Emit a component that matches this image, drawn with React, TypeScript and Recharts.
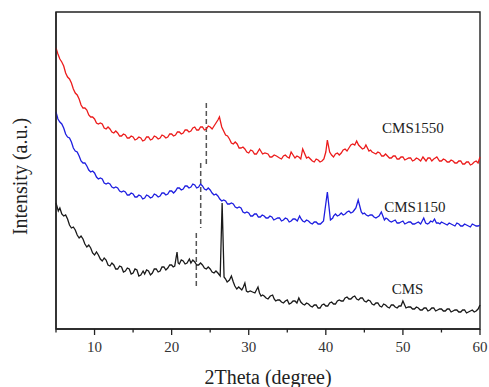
import React from 'react';
import { LineChart, Line, XAxis, YAxis, ReferenceArea, ReferenceLine, ReferenceDot } from 'recharts';

// 2Theta (degree) vs intensity (a.u.)
const cms1550: [number, number][] = [[5,281],[5.5,270],[6,263],[6.5,252],[7,246],[7.5,236],[8,230],[8.5,221],[9,219],[9.5,212],[10,210],[10.5,205],[11,205],[11.5,200],[12,200],[12.5,196],[13,196],[13.5,193],[14,194],[14.5,191],[15,192],[15.5,190],[16,191],[16.5,189],[17,192],[17.5,190],[18,192],[18.5,191],[19,193],[19.5,192],[20,195],[20.5,194],[21,197],[21.5,196],[22,199],[22.5,198],[23,202],[23.5,199],[24,202],[24.5,200],[25,202],[25.5,203],[26,209],[26.2,212],[26.5,202],[27,194],[27.5,190],[28,185],[28.5,185],[29,181],[29.5,180],[30,176],[30.5,178],[31,175],[31.4,180],[31.8,175],[32.5,175],[33,172],[33.6,173],[34,171],[34.5,173],[35,172],[35.5,177],[36,171],[36.5,172],[37,180],[37.5,171],[38,170],[38.5,167],[39,169],[39.5,168],[40,177],[40.2,189],[40.5,177],[41,172],[41.5,176],[42,176],[42.5,180],[43,181],[43.5,185],[44,188],[44.5,182],[45,181],[45.2,184],[45.6,178],[46,177],[46.5,175],[47,176],[47.5,173],[48,173],[48.5,171],[49,173],[49.5,170],[50,172],[50.5,170],[51,171],[51.5,169],[52,170],[52.6,172],[53,168],[53.5,171],[54,170],[54.4,172],[55,168],[55.5,169],[56,167],[56.5,168],[57,166],[57.5,168],[58,165],[58.5,167],[59,165],[59.5,168],[60,172]];
// fine scatter of the noisy trace between the points above
const cms1550Noise: [number, number][] = [[5.25,275],[5.75,267],[6.25,256],[6.75,250],[7.25,240],[7.75,234],[8.25,224],[8.75,221],[9.25,214],[9.75,212],[10.25,206],[10.75,206],[11.25,201],[11.75,202],[12.25,197],[12.75,198],[13.25,193],[13.75,195],[14.25,191],[14.75,193],[15.25,189],[15.75,192],[16.25,188],[16.75,192],[17.25,189],[17.75,193],[18.25,190],[18.75,194],[19.25,191],[19.75,195],[20.25,193],[20.75,197],[21.25,195],[21.75,199],[22.25,197],[22.75,201],[23.25,199],[23.75,202],[24.25,199],[24.75,203],[25.25,200],[27.25,193],[27.75,186],[28.25,187],[28.75,181],[29.25,182],[29.75,177],[30.25,179],[30.75,175],[32.1,176],[32.75,172],[33.3,174],[34.25,170],[34.75,174],[35.25,171],[36.25,173],[36.75,170],[37.75,172],[38.25,168],[38.75,170],[39.25,167],[39.75,170],[40.75,174],[41.25,175],[41.75,174],[42.25,179],[42.75,178],[43.25,184],[43.75,184],[44.25,184],[44.75,180],[45.8,179],[46.25,176],[46.75,177],[47.25,173],[47.75,175],[48.25,171],[48.75,173],[49.25,170],[49.75,172],[50.25,169],[50.75,171],[51.25,168],[51.75,171],[52.3,168],[52.8,170],[53.25,171],[53.75,168],[54.2,171],[54.75,168],[55.25,170],[55.75,167],[56.25,169],[56.75,166],[57.25,168],[57.75,165],[58.25,167],[58.75,164],[59.25,167],[59.75,166]];

const cms1150: [number, number][] = [[5,217],[5.5,207],[6,201],[6.5,192],[7,187],[7.5,178],[8,173],[8.5,166],[9,163],[9.5,157],[10,156],[10.5,150],[11,150],[11.5,145],[12,145],[12.5,141],[13,141],[13.5,137],[14,137],[14.5,134],[15,135],[15.5,132],[16,133],[16.5,131],[17,133],[17.5,132],[18,134],[18.5,133],[19,136],[19.5,135],[20,138],[20.5,138],[21,141],[21.5,140],[22,143],[22.5,142],[23,144],[23.5,142],[24,143],[24.5,139],[25,139],[25.5,134],[26,133],[26.5,128],[27,128],[27.5,125],[28,125],[28.5,121],[29,121],[29.5,116],[30,116],[30.5,113],[31,115],[31.5,112],[32,113],[32.5,111],[33,112],[33.5,110],[34,111],[34.5,109],[35,110],[35.5,108],[36,110],[36.6,113],[37,108],[37.5,109],[38,106],[38.5,107],[39,105],[39.7,108],[40.2,137],[40.6,109],[41,113],[41.5,113],[42,116],[42.5,115],[43,118],[43.5,117],[43.9,121],[44.2,129],[44.6,117],[45,116],[45.5,113],[46,114],[46.5,111],[46.9,113],[47.2,117],[47.6,109],[48,110],[48.5,107],[49,109],[49.5,106],[50,108],[50.5,106],[51,107],[51.5,105],[52,107],[52.7,111],[53.2,105],[53.6,108],[54.1,110],[54.6,106],[55,107],[55.5,105],[56,106],[56.5,104],[57,106],[57.5,103],[58,105],[58.5,103],[59,105],[59.5,103],[60,104]];
const cms1150Noise: [number, number][] = [[5.25,210],[5.75,205],[6.25,195],[6.75,191],[7.25,181],[7.75,177],[8.25,168],[8.75,166],[9.25,159],[9.75,158],[10.25,152],[10.75,151],[11.25,146],[11.75,146],[12.25,142],[12.75,142],[13.25,138],[13.75,138],[14.25,134],[14.75,136],[15.25,132],[15.75,134],[16.25,130],[16.75,134],[17.25,131],[17.75,135],[18.25,132],[18.75,136],[19.25,134],[19.75,138],[20.25,136],[20.75,141],[21.25,139],[21.75,143],[22.25,141],[22.75,145],[23.25,141],[23.75,145],[24.25,140],[24.75,141],[25.25,136],[25.75,135],[26.25,130],[26.75,129],[27.25,125],[27.75,126],[28.25,122],[28.75,122],[29.25,117],[29.75,117],[30.25,113],[30.75,115],[31.25,112],[31.75,114],[32.25,111],[32.75,113],[33.25,109],[33.75,111],[34.25,108],[34.75,111],[35.25,107],[35.75,110],[36.3,108],[36.8,110],[37.25,107],[37.75,108],[38.25,105],[38.75,107],[39.3,105],[40.9,111],[41.25,115],[41.75,114],[42.25,114],[42.75,117],[43.25,116],[43.7,119],[44.8,115],[45.25,114],[45.75,114],[46.25,112],[46.7,112],[47.8,111],[48.25,108],[48.75,108],[49.25,106],[49.75,107],[50.25,105],[50.75,107],[51.25,105],[51.75,106],[52.3,105],[52.95,106],[53.4,106],[53.85,107],[54.35,106],[54.8,105],[55.25,106],[55.75,104],[56.25,105],[56.75,103],[57.25,105],[57.75,103],[58.25,104],[58.75,102],[59.25,104],[59.75,103]];

const cms: [number, number][] = [[5,126],[5.3,118],[5.5,121],[6,113],[6.5,110],[7,101],[7.5,99],[8,91],[8.5,90],[9,82],[9.5,81],[10,74],[10.5,74],[11,68],[11.5,69],[12,63],[12.5,64],[13,60],[13.5,62],[14,58],[14.5,60],[15,56],[15.5,59],[16,54],[16.3,58],[16.5,55],[17,58],[17.5,56],[18,60],[18.5,58],[19,62],[19.5,61],[20,64],[20.4,63],[20.7,77],[21,65],[21.5,68],[22,66],[22.3,70],[22.5,66],[23,67],[23.5,64],[24,64],[24.5,60],[25,60],[25.5,56],[26,56],[26.3,53],[26.55,126],[26.8,52],[27.2,47],[27.75,53],[28.2,43],[28.7,42],[29.1,39],[29.5,46],[29.9,37],[30.5,37],[31.2,42],[31.6,33],[32,33],[32.5,30],[33.1,34],[33.5,28],[34,29],[34.5,26],[35,29],[35.5,26],[36,28],[36.5,31],[37,25],[37.5,26],[38,23],[38.5,24],[39,21],[39.5,24],[40,23],[40.5,26],[41,25],[41.5,28],[42,28],[42.5,31],[43,30],[43.5,32],[44,30],[44.5,31],[45,28],[45.5,29],[46,25],[46.5,26],[47,23],[47.5,25],[48,22],[48.5,24],[49,22],[49.5,23],[50,28],[50.4,21],[51,22],[51.5,20],[52,21],[52.5,19],[53,21],[53.5,19],[54,21],[54.5,19],[55,20],[55.5,18],[56,20],[56.5,18],[57,19],[57.5,17],[58,19],[58.5,17],[59,19],[59.5,18],[60,24]];
const cmsNoise: [number, number][] = [[5.15,122],[5.75,115],[6.25,114],[6.75,104],[7.25,102],[7.75,94],[8.25,93],[8.75,85],[9.25,84],[9.75,76],[10.25,77],[10.75,70],[11.25,71],[11.75,64],[12.25,66],[12.75,60],[13.25,63],[13.75,57],[14.25,61],[14.75,55],[15.25,60],[15.75,53],[16.75,59],[17.25,54],[17.75,60],[18.25,57],[18.75,62],[19.25,59],[19.75,64],[20.2,62],[20.85,66],[21.25,69],[21.75,65],[22.75,69],[23.25,64],[23.75,66],[24.25,61],[24.75,62],[25.25,57],[25.75,58],[27.0,50],[27.5,49],[28.0,47],[28.45,40],[29.3,42],[29.7,38],[30.2,38],[30.8,36],[31.4,36],[31.8,34],[32.25,31],[32.8,33],[33.3,30],[33.75,29],[34.25,27],[34.75,28],[35.25,25],[35.75,28],[36.25,26],[36.75,27],[37.25,24],[37.75,25],[38.25,22],[38.75,24],[39.25,21],[39.75,25],[40.25,23],[40.75,27],[41.25,25],[41.75,29],[42.25,28],[42.75,32],[43.25,30],[43.75,33],[44.25,29],[44.75,31],[45.25,27],[45.75,28],[46.25,24],[46.75,26],[47.25,22],[47.75,24],[48.25,21],[48.75,24],[49.25,21],[49.75,23],[50.7,22],[51.25,20],[51.75,22],[52.25,19],[52.75,21],[53.25,18],[53.75,21],[54.25,18],[54.75,20],[55.25,18],[55.75,20],[56.25,17],[56.75,19],[57.25,17],[57.75,19],[58.25,16],[58.75,18],[59.25,17],[59.75,20]];

const xTicks = [5, 10, 15, 20, 25, 30, 35, 40, 45, 50, 55, 60];
const xLabelTicks = [10, 20, 30, 40, 50, 60];

// dashed guide segments: [x1, y1, x2, y2]
const guides: [number, number, number, number][] = [
  [24.5, 226, 24.5, 162],
  [23.77, 166, 23.77, 101],
  [23.2, 96, 23.2, 40],
];

const seriesLabels: { name: string; x: number; y: number }[] = [
  { name: 'CMS1550', x: 51.3, y: 201 },
  { name: 'CMS1150', x: 51.55, y: 122 },
  { name: 'CMS', x: 50.6, y: 40 },
];

const toData = (main: [number, number][], noise: [number, number][]) =>
  [...main, ...noise].sort((a, b) => a[0] - b[0]).map(([x, y]) => ({ x, y }));

const FONT = '"Liberation Serif", "Times New Roman", Times, serif';

const XTick = (props: any) => {
  const { x, y, payload } = props;
  const major = xLabelTicks.includes(payload.value);
  return (
    <g>
      <line x1={x} x2={x} y1={y} y2={y + (major ? 6 : 3.5)} stroke="#222" strokeWidth={1.3} />
      {major && (
        <text x={x} y={y + 23} textAnchor="middle" style={{ fontFamily: FONT, fontSize: 15 }} fill="#333">
          {payload.value}
        </text>
      )}
    </g>
  );
};

const YTitle = (props: any) => {
  const vb = props.viewBox;
  const cx = vb.x + 20;
  const cy = vb.y + vb.height / 2 + 6;
  return (
    <text
      transform={`translate(${cx},${cy}) rotate(-90)`}
      textAnchor="middle"
      dominantBaseline="central"
      style={{ fontFamily: FONT, fontSize: 20 }}
      fill="#222"
    >
      Intensity (a.u.)
    </text>
  );
};

export default function App() {
  return (
    <div style={{ position: 'absolute', left: 0, top: 0, background: '#fff', fontFamily: FONT }}>
      <LineChart width={489} height={387} margin={{ top: 12, right: 9, bottom: 0, left: 0 }} style={{ fontFamily: FONT }}>
        <XAxis
          type="number"
          dataKey="x"
          domain={[5, 60]}
          ticks={xTicks}
          interval={0}
          tick={<XTick />}
          tickLine={false}
          tickSize={0}
          tickMargin={0}
          height={58}
          axisLine={{ stroke: '#222', strokeWidth: 1.4 }}
          label={{ value: '2Theta (degree)', position: 'insideBottom', offset: 3, style: { fontFamily: FONT, fontSize: 20 }, fill: '#222' }}
        />
        <YAxis
          type="number"
          domain={[0, 317]}
          tick={false}
          tickLine={false}
          width={56}
          axisLine={{ stroke: '#222', strokeWidth: 1.4 }}
          label={<YTitle />}
        />
        <ReferenceArea x1={5} x2={60} y1={0} y2={317} fill="none" stroke="#222" strokeWidth={1.4} />
        {guides.map(([x1, y1, x2, y2], i) => (
          <ReferenceLine
            key={i}
            segment={[{ x: x1, y: y1 }, { x: x2, y: y2 }]}
            stroke="#555"
            strokeWidth={1.5}
            strokeDasharray="5 3"
          />
        ))}
        <Line data={toData(cms1550, cms1550Noise)} dataKey="y" stroke="#ec1c1c" strokeWidth={1.3} dot={false} isAnimationActive={false} />
        <Line data={toData(cms1150, cms1150Noise)} dataKey="y" stroke="#1e1ee0" strokeWidth={1.3} dot={false} isAnimationActive={false} />
        <Line data={toData(cms, cmsNoise)} dataKey="y" stroke="#1a1a1a" strokeWidth={1.3} dot={false} isAnimationActive={false} />
        {seriesLabels.map((s) => (
          <ReferenceDot
            key={s.name}
            x={s.x}
            y={s.y}
            r={0}
            fill="none"
            stroke="none"
            label={{ value: s.name, position: 'center', style: { fontFamily: FONT, fontSize: 15 }, fill: '#222' }}
          />
        ))}
      </LineChart>
    </div>
  );
}
